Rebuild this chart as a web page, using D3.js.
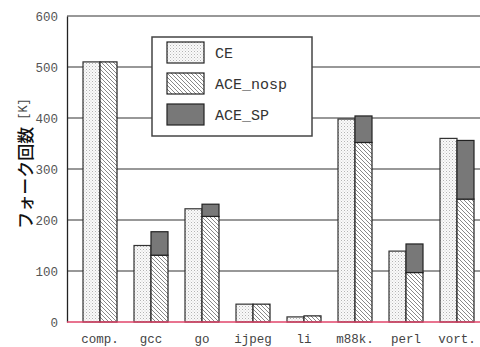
<!DOCTYPE html>
<html>
<head>
<meta charset="utf-8">
<script src="https://cdn.jsdelivr.net/npm/d3@7"></script>
<style>
  html, body { margin: 0; padding: 0; background: #fff; }
  svg { display: block; }
</style>
</head>
<body>
<svg id="chart" width="480" height="347"></svg>
<script>
// Benchmarks on the x axis
const categories = ["comp.", "gcc", "go", "ijpeg", "li", "m88k.", "perl", "vort."];
// Fork counts in thousands
const ceValues      = [510, 150, 222, 35, 10, 398, 139, 360];
const aceNospValues = [510, 131, 207, 35, 12, 352, 97, 241];
const aceSpValues   = [0,   46,  24,  0,  0,  52,  56, 115];
const yTicks = [0, 100, 200, 300, 400, 500, 600];
const seriesNames = ["CE", "ACE_nosp", "ACE_SP"];

const svg = d3.select("#chart");
const margin = { left: 67, top: 16, bottom: 25 };
const height = 347;
const plotBottom = height - margin.bottom;

const y = d3.scaleLinear().domain([0, 600]).range([plotBottom, margin.top]);

const stepPx = 51;
const padInner = 1 / 3, padOuter = 16 / 51;
const xRight = margin.left + stepPx * (categories.length - padInner + 2 * padOuter);
const x = d3.scaleBand().domain(categories).range([margin.left, xRight])
  .paddingInner(padInner).paddingOuter(padOuter);
const sub = d3.scaleBand().domain(["ce", "ace"]).range([0, x.bandwidth()]);

// Fill patterns
const defs = svg.append("defs");
const dots = defs.append("pattern").attr("id", "dots").attr("patternUnits", "userSpaceOnUse")
  .attr("width", 3).attr("height", 3);
dots.append("rect").attr("width", 3).attr("height", 3).attr("fill", "#fafafa");
dots.append("rect").attr("x", 0).attr("y", 0).attr("width", 1).attr("height", 1).attr("fill", "#b4b4b4");
dots.append("rect").attr("x", 1.5).attr("y", 1.5).attr("width", 1).attr("height", 1).attr("fill", "#d0d0d0");

const hatch = defs.append("pattern").attr("id", "hatch").attr("patternUnits", "userSpaceOnUse")
  .attr("width", 4).attr("height", 4);
hatch.append("rect").attr("width", 4).attr("height", 4).attr("fill", "#fff");
hatch.append("path").attr("d", "M-1,-1 L5,5 M-1,3 L1,5 M3,-1 L5,1")
  .attr("stroke", "#888").attr("stroke-width", 1);

const fills = { CE: "url(#dots)", ACE_nosp: "url(#hatch)", ACE_SP: "#787878" };

// Grid lines
svg.append("g").selectAll("line").data(yTicks.filter(d => d > 0)).join("line")
  .attr("x1", margin.left).attr("x2", 480)
  .attr("y1", d => y(d)).attr("y2", d => y(d))
  .attr("stroke", "#333").attr("stroke-width", 1.2);

// Y axis
const yAxis = d3.axisLeft(y).tickValues(yTicks).tickSize(0).tickPadding(9);
const gy = svg.append("g").attr("transform", `translate(${margin.left},0)`).call(yAxis);
gy.select(".domain").attr("stroke", "#222").attr("stroke-width", 1.3);
gy.selectAll("text").attr("font-family", "Liberation Mono, monospace")
  .attr("font-size", 12.5).attr("fill", "#555");

// Bars
const groups = svg.append("g").selectAll("g").data(categories).join("g")
  .attr("transform", d => `translate(${x(d)},0)`);

groups.append("rect")
  .attr("x", sub("ce")).attr("width", sub.bandwidth())
  .attr("y", (d, i) => y(ceValues[i])).attr("height", (d, i) => y(0) - y(ceValues[i]))
  .attr("fill", fills.CE).attr("stroke", "#333").attr("stroke-width", 1.2);

groups.append("rect")
  .attr("x", sub("ace")).attr("width", sub.bandwidth())
  .attr("y", (d, i) => y(aceNospValues[i])).attr("height", (d, i) => y(0) - y(aceNospValues[i]))
  .attr("fill", fills.ACE_nosp).attr("stroke", "#222").attr("stroke-width", 1.2);

groups.filter((d, i) => aceSpValues[i] > 0).append("rect")
  .attr("x", sub("ace")).attr("width", sub.bandwidth())
  .attr("y", d => { const i = categories.indexOf(d); return y(aceNospValues[i] + aceSpValues[i]); })
  .attr("height", d => { const i = categories.indexOf(d); return y(aceNospValues[i]) - y(aceNospValues[i] + aceSpValues[i]); })
  .attr("fill", fills.ACE_SP).attr("stroke", "#222").attr("stroke-width", 1.2);

// Baseline
svg.append("line").attr("x1", margin.left).attr("x2", 480)
  .attr("y1", y(0)).attr("y2", y(0)).attr("stroke", "#e0456a").attr("stroke-width", 1.3);

// X labels
const xAxis = d3.axisBottom(x).tickSize(0).tickPadding(12);
const gx = svg.append("g").attr("transform", `translate(0,${plotBottom})`).call(xAxis);
gx.select(".domain").remove();
gx.selectAll("text").attr("font-family", "Liberation Mono, monospace")
  .attr("font-size", 12.5).attr("fill", "#444");

// Y axis title
const title = svg.append("text")
  .attr("transform", `translate(24,163.5) rotate(-90)`)
  .attr("text-anchor", "middle")
  .attr("dominant-baseline", "central")
  .attr("fill", "#111");
title.append("tspan")
  .attr("font-family", "Noto Sans CJK JP")
  .attr("font-size", 17).attr("font-weight", 500)
  .text("フォーク回数");
title.append("tspan")
  .attr("dx", 7)
  .attr("font-family", "Liberation Mono, monospace")
  .attr("font-size", 12).attr("fill", "#444")
  .text("[K]");

// Legend
const legend = svg.append("g").attr("transform", "translate(152,37)");
legend.append("rect").attr("width", 160).attr("height", 99)
  .attr("fill", "#fff").attr("stroke", "#444").attr("stroke-width", 1.5);
const items = legend.selectAll("g").data(seriesNames).join("g")
  .attr("transform", (d, i) => `translate(15,${5 + i * 31})`);
items.append("rect").attr("width", 37).attr("height", 21)
  .attr("fill", d => fills[d]).attr("stroke", "#222").attr("stroke-width", 1.2);
items.append("text").attr("x", 48).attr("y", 15.5)
  .attr("font-family", "Liberation Mono, monospace").attr("font-size", 15)
  .attr("fill", "#333").text(d => d);
</script>
</body>
</html>
